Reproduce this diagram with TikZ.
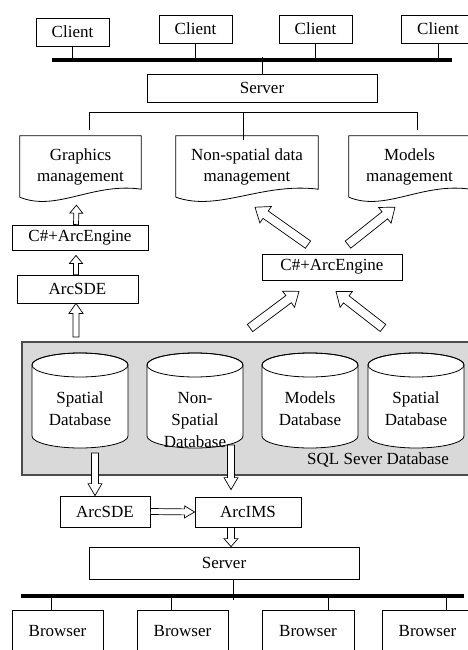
\documentclass[tikz,border=0pt]{standalone}
\usepackage{fontspec}
\setmainfont{Liberation Serif}
\usetikzlibrary{calc}

% hollow block arrow: from, to, half shaft, half head, head length
\newcommand{\blockarrow}[5]{%
	\coordinate (ahb) at ($#2!#5pt!#1$);
	\draw[line width=0.7pt, fill=white]
	($#1!#3pt!90:#2$) -- ($(ahb)!#3pt!90:#2$) -- ($(ahb)!#4pt!90:#2$) -- #2
	-- ($(ahb)!#4pt!-90:#2$) -- ($(ahb)!#3pt!-90:#2$) -- ($#1!#3pt!-90:#2$) -- cycle;}

\begin{document}
\begin{tikzpicture}[scale=1, x=1pt, y=-1pt,
	box/.style={draw, line width=0.8pt, fill=white, inner sep=0pt, align=center, font=\fontsize{17}{22}\selectfont},
	docbox/.style={inner sep=0pt, align=center, font=\fontsize{17}{21}\selectfont},
	txt/.style={inner sep=0pt, align=center, font=\fontsize{17}{22}\selectfont},
	bus/.style={line width=3.3pt},
	wire/.style={line width=0.8pt}]

	\clip (0,0) rectangle (468,650);

	% clients
	\node[box, minimum width=73, minimum height=28] (client1) at (72.5,32) {Client};
	\node[box, minimum width=73, minimum height=28] (client2) at (195.5,29) {Client};
	\node[box, minimum width=73, minimum height=28] (client3) at (315.5,29) {Client};
	\node[box, minimum width=73, minimum height=28] (client4) at (438,29) {Client};

	% network
	\coordinate (netL) at (52,60);
	\coordinate (netR) at (452,60);
	\draw[bus] (netL) -- (netR);
	\draw[wire] (client1.south) -- (client1.south |- netL);
	\draw[wire] (client2.south) -- (client2.south |- netL);
	\draw[wire] (client3.south) -- (client3.south |- netL);
	\draw[wire] (client4.south) -- (client4.south |- netL);

	% server
	\node[box, minimum width=230, minimum height=28] (server1) at (262,88) {Server};
	\draw[wire] (server1.north) -- ($(server1.north |- netL)+(0,-3)$);

	% management
	\coordinate (splitL) at (89,112);
	\coordinate (splitM) at (243,112);
	\coordinate (splitR) at (417,112);
	\draw[wire] (splitL) -- (splitR);
	\node[docbox, minimum width=121, minimum height=61] (graph) at (80.5,166.5) {Graphics\\management};
	\node[docbox, minimum width=142, minimum height=61] (nonsp) at (247,166.5) {Non-spatial data\\management};
	\node[docbox, minimum width=121, minimum height=61] (models) at (409.5,166.5) {Models\\management};
	\foreach \d in {graph,nonsp,models}
		\draw[wire] (\d.south west) -- (\d.north west) -- (\d.north east) -- ($(\d.south east)+(0,-8)$)
			.. controls ($(\d.south west)!0.6!(\d.south east)+(0,-15)$) and ($(\d.south west)!0.3!(\d.south east)+(0,15)$) .. (\d.south west);
	\draw[wire] (splitL) -- ($(splitL |- graph.north)+(0,-6)$);
	\draw[wire] (splitM) -- ($(splitM |- nonsp.north)+(0,4)$);
	\draw[wire] (splitR) -- ($(splitR |- models.north)+(0,-6)$);

	% left branch
	\node[box, minimum width=136, minimum height=25] (engL) at (80,237.5) {C\#+ArcEngine};
	\node[box, minimum width=121, minimum height=28] (sdeL) at (77.5,289) {ArcSDE};
	\blockarrow{([xshift=-4pt]engL.north)}{([xshift=-4pt,yshift=-8pt]graph.south)}{2.5}{6.5}{8}
	\blockarrow{([xshift=-1.5pt]sdeL.north)}{([xshift=-4pt,yshift=-5pt]engL.south)}{2.5}{6.5}{8}
	\coordinate (sqlA) at (76,337);
	\blockarrow{(sqlA)}{([xshift=-1.5pt]sdeL.south)}{3}{7}{10}

	% right branch
	\node[box, minimum width=140, minimum height=26] (engR) at (332,267) {C\#+ArcEngine};
	\blockarrow{([shift={(-24pt,9pt)}]engR.north)}{([shift={(8pt,-10pt)}]nonsp.south)}{4.5}{10}{13}
	\blockarrow{([shift={(16pt,9pt)}]engR.north)}{([shift={(-14.5pt,-10pt)}]models.south)}{4.5}{10}{13}
	\coordinate (sqlB) at (250,328);
	\coordinate (sqlC) at (383,328);
	\blockarrow{(sqlB)}{([shift={(-33pt,-11pt)}]engR.south)}{4.5}{10}{13}
	\blockarrow{(sqlC)}{([shift={(4pt,-11pt)}]engR.south)}{4.5}{10}{13}

	% database
	\node[draw=black!70, line width=1.2pt, fill=black!15, minimum width=460, minimum height=133] (sql) at (252,408.5) {};
	\foreach \x in {80,195,310,416} {
		\filldraw[wire, fill=white] ({\x-48},365) -- ({\x-48},436) arc[start angle=180, end angle=0, x radius=48, y radius=12]
			-- ({\x+48},365) arc[start angle=0, end angle=-180, x radius=48, y radius=12] -- cycle;
		\draw[wire] (\x,365) ellipse[x radius=48, y radius=12];
	}
	\node[txt] (db1) at (80,409) {Spatial\\Database};
	\node[txt] (db2) at (195,420) {Non-\\Spatial\\Database};
	\node[txt] (db3) at (310,409) {Models\\Database};
	\node[txt] (db4) at (416,409) {Spatial\\Database};
	\node[txt] (sqltxt) at (378,460) {SQL Sever Database};

	% web side
	\node[box, minimum width=90, minimum height=31] (sdeB) at (105,511.5) {ArcSDE};
	\node[box, minimum width=106, minimum height=30] (ims) at (248,512) {ArcIMS};
	\node[box, minimum width=270, minimum height=32] (server2) at (224,563) {Server};
	\coordinate (dbA) at (95,453);
	\coordinate (dbB) at (231,445);
	\blockarrow{(dbA)}{([xshift=-10pt]sdeB.north)}{3.5}{7}{12}
	\blockarrow{(dbB)}{([shift={(-17pt,7pt)}]ims.north)}{3.5}{7}{12}
	\blockarrow{(sdeB.east)}{(ims.west)}{3}{6}{10}
	\blockarrow{([xshift=-17pt]ims.south)}{([xshift=7pt]server2.north)}{3.5}{7}{8}

	% browsers
	\coordinate (webL) at (21,596);
	\coordinate (webR) at (464,596);
	\draw[bus] (webL) -- (webR);
	\draw[wire] ($(server2.south)+(9,0)$) -- ($(server2.south |- webL)+(9,4)$);
	\node[box, minimum width=91, minimum height=42] (brw1) at (57.5,631) {Browser};
	\node[box, minimum width=91, minimum height=42] (brw2) at (182.5,631) {Browser};
	\node[box, minimum width=92, minimum height=42] (brw3) at (308,631) {Browser};
	\node[box, minimum width=91, minimum height=42] (brw4) at (427.5,631) {Browser};
	\draw[wire] ($(brw1.north)+(-6.5,0)$) -- ($(brw1.north |- webL)+(-6.5,0)$);
	\draw[wire] ($(brw2.north)+(-11.5,0)$) -- ($(brw2.north |- webL)+(-11.5,0)$);
	\draw[wire] ($(brw3.north)+(20,0)$) -- ($(brw3.north |- webL)+(20,0)$);
	\draw[wire] ($(brw4.north)+(18.5,0)$) -- ($(brw4.north |- webL)+(18.5,0)$);

\end{tikzpicture}
\end{document}
